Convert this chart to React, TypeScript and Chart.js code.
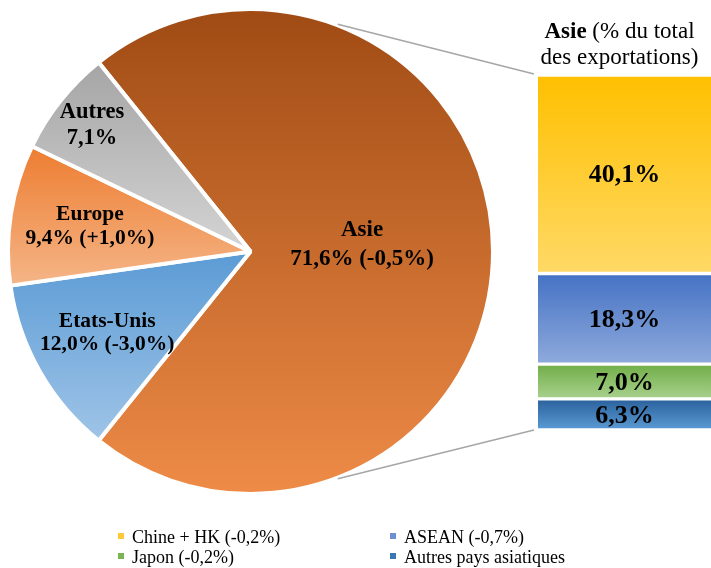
import React, { useEffect, useRef } from "react";
import { Chart, registerables } from "chart.js";

Chart.register(...registerables);

// ---------- DATA ----------
const regions = ["Asie", "Etats-Unis", "Europe", "Autres"];
const regionShares = [71.6, 12.0, 9.4, 7.1];
const regionChanges = ["(-0,5%)", "(-3,0%)", "(+1,0%)", ""];

const asiaParts = ["Chine + HK", "ASEAN", "Japon", "Autres pays asiatiques"];
const asiaShares = [40.1, 18.3, 7.0, 6.3];
const asiaChanges = ["(-0,2%)", "(-0,7%)", "(-0,2%)", ""];

const headerBold = "Asie";
const headerRest1 = " (% du total";
const headerRest2 = "des exportations)";

// ---------- STYLE ----------
const FONT = "'Liberation Serif', 'Times New Roman', serif";
const PIE_GRAD = [
  ["#A04B14", "#EE8B47"],
  ["#5B9BD5", "#9FC4E7"],
  ["#ED7D31", "#F5B587"],
  ["#A5A5A5", "#D4D4D4"],
];
const PIE_LABEL_R = [0.46, 0.68, 0.67, 0.835];
const PIE_LABEL_DY = [-7, 0, 0, 0];
const PIE_LABEL_FONT = [23, 21.5, 21.5, 22.5];
const PIE_LABEL_LH = [28.5, 22.5, 24, 26];

const BAR_GRAD = [
  ["#FFC000", "#FFD966"],
  ["#4472C4", "#8FAADC"],
  ["#70AD47", "#A9D18E"],
  ["#2A609B", "#5B9BD5"],
];
const LEGEND_COLORS = ["#FFC83A", "#6F8FD3", "#79B552", "#3A78B5"];

const W = 711;
const H = 568;
const PIE_PAD = { left: 6, top: 7, right: 216, bottom: 72 };
const BAR_BOX = { left: 538, top: 77, bottom: 428, right: 711 };
const BAR_BORDER = 2;
const CONNECT_ANGLE = 69; // degrees from horizontal

const fmt = (v: number) => v.toFixed(1).replace(".", ",") + "%";

function sliceYExtent(cy: number, r: number, a0: number, a1: number) {
  const ys = [cy, cy + r * Math.sin(a0), cy + r * Math.sin(a1)];
  for (let k = -2; k <= 2; k++) {
    const down = Math.PI / 2 + 2 * Math.PI * k;
    const up = -Math.PI / 2 + 2 * Math.PI * k;
    if (down >= a0 && down <= a1) ys.push(cy + r);
    if (up >= a0 && up <= a1) ys.push(cy - r);
  }
  return [Math.min(...ys), Math.max(...ys)];
}

export default function App() {
  const pieRef = useRef<HTMLCanvasElement | null>(null);
  const barRef = useRef<HTMLCanvasElement | null>(null);

  useEffect(() => {
    const total = regionShares.reduce((a, b) => a + b, 0);
    const rotation = 90 - ((regionShares[0] / total) * 360) / 2;
    const borderW = 4;

    const pieLabels = {
      id: "pieLabels",
      afterDatasetsDraw(chart: any) {
        const ctx = chart.ctx;
        const meta = chart.getDatasetMeta(0);
        ctx.save();
        ctx.fillStyle = "#000";
        ctx.textAlign = "center";
        ctx.textBaseline = "middle";
        meta.data.forEach((arc: any, i: number) => {
          const p = arc.getProps(["x", "y", "startAngle", "endAngle", "outerRadius"], true);
          const mid = (p.startAngle + p.endAngle) / 2;
          const px = p.x + Math.cos(mid) * p.outerRadius * PIE_LABEL_R[i];
          const py = p.y + Math.sin(mid) * p.outerRadius * PIE_LABEL_R[i] + PIE_LABEL_DY[i];
          ctx.font = `bold ${PIE_LABEL_FONT[i]}px ${FONT}`;
          const lh = PIE_LABEL_LH[i];
          const line2 = fmt(regionShares[i]) + (regionChanges[i] ? " " + regionChanges[i] : "");
          ctx.fillText(regions[i], px, py - lh / 2);
          ctx.fillText(line2, px, py + lh / 2);
        });
        ctx.restore();
      },
      afterDraw(chart: any) {
        const ctx = chart.ctx;
        const arc = chart.getDatasetMeta(0).data[0];
        const p = arc.getProps(["x", "y", "outerRadius"], true);
        const a = (CONNECT_ANGLE * Math.PI) / 180;
        const r = p.outerRadius + 1;
        ctx.save();
        ctx.strokeStyle = "#A6A6A6";
        ctx.lineWidth = 1.5;
        ctx.beginPath();
        ctx.moveTo(p.x + r * Math.cos(-a), p.y + r * Math.sin(-a));
        ctx.lineTo(BAR_BOX.left - 4, BAR_BOX.top - 3);
        ctx.moveTo(p.x + r * Math.cos(a), p.y + r * Math.sin(a));
        ctx.lineTo(BAR_BOX.left - 4, BAR_BOX.bottom + 2);
        ctx.stroke();
        ctx.restore();
      },
    };

    const pie = new Chart(pieRef.current as HTMLCanvasElement, {
      type: "pie",
      data: {
        labels: regions,
        datasets: [
          {
            data: regionShares,
            borderColor: "#FFFFFF",
            borderWidth: borderW,
            backgroundColor: (c: any) => {
              const chart = c.chart;
              const area = chart.chartArea;
              const i = c.dataIndex;
              if (!area) return PIE_GRAD[i][0];
              const cx = (area.left + area.right) / 2;
              const cy = (area.top + area.bottom) / 2;
              const r = (Math.min(area.width, area.height) - borderW) / 2;
              let a = ((rotation - 90) * Math.PI) / 180;
              for (let k = 0; k < i; k++) a += (regionShares[k] / total) * 2 * Math.PI;
              const a1 = a + (regionShares[i] / total) * 2 * Math.PI;
              const [y0, y1] = sliceYExtent(cy, r, a, a1);
              const g = chart.ctx.createLinearGradient(0, y0, 0, y1);
              g.addColorStop(0, PIE_GRAD[i][0]);
              g.addColorStop(1, PIE_GRAD[i][1]);
              void cx;
              return g;
            },
          },
        ],
      },
      options: {
        responsive: false,
        animation: false,
        events: [],
        rotation,
        layout: { padding: PIE_PAD },
        plugins: { legend: { display: false }, tooltip: { enabled: false } },
      },
      plugins: [pieLabels],
    } as any);

    const asiaTotal = asiaShares.reduce((a, b) => a + b, 0);
    const order = asiaParts.map((_, i) => asiaParts.length - 1 - i); // bottom to top

    const barLabels = {
      id: "barLabels",
      afterDatasetsDraw(chart: any) {
        const ctx = chart.ctx;
        ctx.save();
        ctx.fillStyle = "#000";
        ctx.textAlign = "center";
        ctx.textBaseline = "middle";
        ctx.font = `bold 26px ${FONT}`;
        chart.data.datasets.forEach((ds: any, j: number) => {
          const el = chart.getDatasetMeta(j).data[0];
          const p = el.getProps(["x", "y", "base"], true);
          ctx.fillText(fmt(ds.data[0]), p.x, (p.y + p.base) / 2 + 1.5);
        });
        ctx.restore();
      },
    };

    const bar = new Chart(barRef.current as HTMLCanvasElement, {
      type: "bar",
      data: {
        labels: [headerBold],
        datasets: order.map((p) => ({
          label: asiaParts[p],
          data: [asiaShares[p]],
          borderColor: "#FFFFFF",
          borderWidth: { top: BAR_BORDER, bottom: BAR_BORDER, left: 0, right: 0 },
          borderSkipped: false,
          barPercentage: 1,
          categoryPercentage: 1,
          backgroundColor: (c: any) => {
            const chart = c.chart;
            const ys = chart.scales && chart.scales.y;
            if (!ys || !chart.chartArea) return BAR_GRAD[p][0];
            let bottom = 0;
            for (let k = p + 1; k < asiaShares.length; k++) bottom += asiaShares[k];
            const top = bottom + asiaShares[p];
            const g = chart.ctx.createLinearGradient(0, ys.getPixelForValue(top), 0, ys.getPixelForValue(bottom));
            g.addColorStop(0, BAR_GRAD[p][0]);
            g.addColorStop(1, BAR_GRAD[p][1]);
            return g;
          },
        })),
      },
      options: {
        responsive: false,
        animation: false,
        events: [],
        layout: { padding: 0 },
        plugins: { legend: { display: false }, tooltip: { enabled: false } },
        scales: {
          x: { display: false, stacked: true },
          y: { display: false, stacked: true, min: 0, max: asiaTotal },
        },
      },
      plugins: [barLabels],
    } as any);

    return () => {
      pie.destroy();
      bar.destroy();
    };
  }, []);

  const barW = BAR_BOX.right - BAR_BOX.left;
  const barH = BAR_BOX.bottom - BAR_BOX.top + 2 * BAR_BORDER;
  const legendCols = [118, 390];
  const legendRows = [527, 547];

  return (
    <div
      style={{
        position: "absolute",
        left: 0,
        top: 0,
        width: W,
        height: H,
        overflow: "hidden",
        background: "#FFFFFF",
        fontFamily: FONT,
        color: "#000",
      }}
    >
      <canvas
        ref={pieRef}
        width={W}
        height={H}
        style={{ position: "absolute", left: 0, top: 0, width: W, height: H }}
      />
      <canvas
        ref={barRef}
        width={barW}
        height={barH}
        style={{
          position: "absolute",
          left: BAR_BOX.left,
          top: BAR_BOX.top - BAR_BORDER,
          width: barW,
          height: barH,
        }}
      />
      <div
        style={{
          position: "absolute",
          left: BAR_BOX.left - 10,
          top: 18,
          width: barW + 10,
          textAlign: "center",
          fontSize: 23,
          lineHeight: "26px",
          whiteSpace: "nowrap",
        }}
      >
        <b>{headerBold}</b>
        {headerRest1}
        <br />
        {headerRest2}
      </div>
      {asiaParts.map((name, i) => {
        const left = legendCols[i % 2];
        const top = legendRows[Math.floor(i / 2)];
        const text = name + (asiaChanges[i] ? " " + asiaChanges[i] : "");
        return (
          <React.Fragment key={name}>
            <div
              style={{
                position: "absolute",
                left,
                top: top + 6,
                width: 6,
                height: 6,
                background: LEGEND_COLORS[i],
              }}
            />
            <div
              style={{
                position: "absolute",
                left: left + 14,
                top,
                fontSize: 18,
                lineHeight: "20px",
                whiteSpace: "nowrap",
              }}
            >
              {text}
            </div>
          </React.Fragment>
        );
      })}
    </div>
  );
}
